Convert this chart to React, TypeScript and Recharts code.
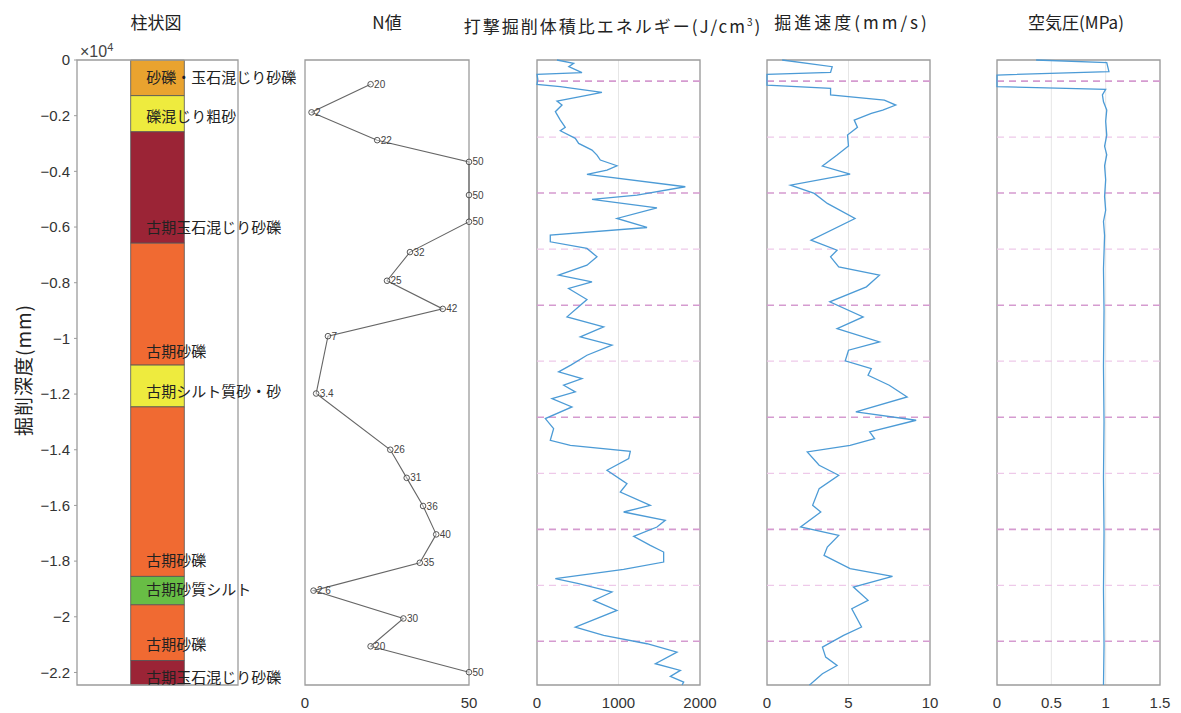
import React from 'react';
import {
  ComposedChart,
  Scatter,
  XAxis,
  YAxis,
  ReferenceArea,
  ReferenceLine,
  CartesianGrid,
  LabelList,
} from 'recharts';

// depth axis (mm, shown as ×10^4)
const DEPTH_MIN = -22450;
const depthTicks = [0, -2000, -4000, -6000, -8000, -10000, -12000, -14000, -16000, -18000, -20000, -22000];

// 柱状図: [top, bottom, color, label, label depth]
const strata: [number, number, string, string, number][] = [
  [0, 1280, '#e9a32f', '砂礫・玉石混じり砂礫', 610],
  [1280, 2580, '#eeeb3e', '礫混じり粗砂', 1980],
  [2580, 6580, '#9b2436', '古期玉石混じり砂礫', 5970],
  [6580, 10960, '#f06a32', '古期砂礫', 10420],
  [10960, 12460, '#eeeb3e', '古期シルト質砂・砂', 11860],
  [12460, 18550, '#f06a32', '古期砂礫', 17940],
  [18550, 19570, '#68bd45', '古期砂質シルト', 18980],
  [19570, 21570, '#f06a32', '古期砂礫', 20960],
  [21570, 22450, '#9b2436', '古期玉石混じり砂礫', 22140],
];

// N値: [depth, N, label]
const nValues: [number, number, string][] = [
  [870, 20, '20'], [1880, 2, '2'], [2880, 22, '22'], [3660, 50, '50'], [4850, 50, '50'],
  [5810, 50, '50'], [6900, 32, '32'], [7930, 25, '25'], [8940, 42, '42'], [9920, 7, '7'],
  [11980, 3.4, '3.4'], [14000, 26, '26'], [15010, 31, '31'], [16020, 36, '36'], [17040, 40, '40'],
  [18060, 35, '35'], [19060, 2.6, '2.6'], [20060, 30, '30'], [21060, 20, '20'], [21990, 50, '50'],
];

// 打撃掘削体積比エネルギー: [depth, J/cm3]
const energy: [number, number][] = [
  [0, 245], [120, 450], [240, 390], [456, 552], [516, 0], [700, 10], [880, 0], [958, 286],
  [1162, 797], [1318, 531], [1474, 245], [1617, 307], [1857, 225], [2157, 286], [2420, 347],
  [2540, 286], [2815, 470], [2995, 511], [3235, 675], [3415, 736], [3594, 777], [3798, 981],
  [3954, 859], [4110, 613], [4553, 1820], [4853, 1227], [5008, 675], [5308, 1472], [5692, 981],
  [6016, 1350], [6290, 163], [6530, 163], [6770, 613], [7069, 736], [7369, 613], [7728, 265],
  [7968, 675], [8207, 388], [8603, 613], [8866, 511], [9226, 368], [9586, 818], [9946, 531],
  [10245, 920], [10604, 613], [10950, 420], [11204, 265], [11443, 552], [11682, 327], [11922, 470],
  [12162, 184], [12462, 429], [12880, 102], [13239, 204], [13659, 163], [13839, 409], [14055, 1145],
  [14318, 1125], [14738, 859], [15216, 1104], [15518, 1022], [15996, 1390], [16236, 1063],
  [16535, 1574], [16775, 1472], [17110, 1186], [17434, 1390], [17674, 1554], [18034, 1554],
  [18296, 1063], [18630, 225], [18810, 511], [18990, 756], [19110, 920], [19410, 695], [19770, 981],
  [20369, 470], [20669, 818], [20968, 1350], [21268, 1718], [21686, 1452], [21926, 1759],
  [22142, 1636], [22346, 1800], [22450, 1780],
];

// 掘進速度: [depth, mm/s]
const speed: [number, number][] = [
  [0, 0.93], [240, 4.0], [444, 3.9], [516, 0], [899, 0], [1018, 3.9], [1258, 3.9], [1438, 7.2],
  [1618, 7.9], [1797, 7.1], [1917, 6.4], [2157, 5.35], [2420, 5.55], [2696, 4.94], [3091, 5.0],
  [3415, 4.3], [3810, 3.4], [4098, 5.1], [4493, 1.44], [4793, 2.9], [5152, 3.7], [5692, 5.4],
  [6470, 2.7], [6830, 4.3], [7069, 3.9], [7429, 4.4], [7728, 6.9], [8148, 6.1], [8688, 3.85],
  [9227, 5.9], [9646, 4.3], [10125, 6.9], [10424, 5.0], [10809, 4.8], [11083, 6.4], [11323, 6.2],
  [11682, 7.5], [12102, 8.6], [12641, 5.45], [12940, 9.15], [13361, 6.3], [13600, 6.6], [13839, 5.1],
  [14079, 2.47], [14558, 3.2], [14917, 4.4], [15395, 3.2], [15996, 2.8], [16236, 3.3], [16775, 2.06],
  [17074, 4.4], [17494, 3.7], [17793, 3.5], [18271, 5.1], [18547, 7.7], [18930, 5.3], [19410, 6.2],
  [19709, 5.2], [20369, 5.8], [20669, 4.7], [21088, 3.4], [21448, 3.6], [21748, 4.3], [22047, 3.4],
  [22406, 2.7], [22450, 2.6],
];

// 空気圧: [depth, MPa]
const airPressure: [number, number][] = [
  [0, 0.36], [96, 1.01], [420, 1.03], [540, 0], [958, 0], [1055, 1.0], [1250, 0.97], [1500, 0.98],
  [1800, 1.01], [2200, 1.0], [2700, 1.01], [3100, 0.99], [3400, 1.01], [3800, 0.99], [4300, 1.0],
  [4900, 0.99], [5400, 1.0], [5800, 0.98], [6300, 0.99], [7500, 0.98], [9000, 0.985], [11000, 0.98],
  [13000, 0.985], [15000, 0.98], [17000, 0.985], [19000, 0.98], [21000, 0.985], [22450, 0.98],
];

// pink dashed marks: [depth, strong?]
const marks: [number, boolean][] = [
  [760, true], [2770, false], [4780, true], [6790, false], [8810, true], [10820, false],
  [12830, true], [14850, false], [16860, true], [18870, false], [20880, true],
];

const JP = '"Noto Sans CJK JP", "Noto Sans", sans-serif';
const NUM = '"Liberation Sans", Arial, sans-serif';
const FRAME = '#9c9c9c';
const BLUE = '#4c9bd6';
const H = 713;

const toPts = (rows: [number, number][]) => rows.map(([d, v]) => ({ d: -d, v }));

const tickStyle = { fontSize: 15, fill: '#333', fontFamily: NUM };

function Title({ x, text, spacing = 0 }: { x: number; text: React.ReactNode; spacing?: number }) {
  return (
    <div
      style={{
        position: 'absolute', left: x, top: 10, transform: 'translateX(-50%)',
        fontFamily: JP, fontSize: 17, color: '#222', whiteSpace: 'nowrap', lineHeight: '24px',
        letterSpacing: spacing,
      }}
    >
      {text}
    </div>
  );
}

function DepthY() {
  return <YAxis type="number" dataKey="d" domain={[DEPTH_MIN, 0]} hide />;
}

function CurvePanel({
  left, rows, domain, ticks,
}: {
  left: number; rows: [number, number][]; domain: [number, number]; ticks: number[];
}) {
  return (
    <div style={{ position: 'absolute', left, top: 0 }}>
      <ComposedChart width={200} height={H} margin={{ top: 60, right: 20, bottom: 0, left: 17 }}>
        <CartesianGrid horizontal={false} stroke="#e6e6e6" />
        <XAxis
          type="number" dataKey="v" domain={domain} ticks={ticks} interval={0}
          axisLine={false} tickLine={false} height={28} tickMargin={6} tick={tickStyle}
        />
        <DepthY />
        {marks.map(([d, strong]) => (
          <ReferenceLine
            key={d} y={-d}
            stroke={strong ? '#d59bd0' : '#eec9e9'}
            strokeWidth={strong ? 1.6 : 1.3}
            strokeDasharray="7 5"
          />
        ))}
        <Scatter
          data={toPts(rows)} isAnimationActive={false}
          line={{ stroke: BLUE, strokeWidth: 1.3 }} shape={() => <g />}
        />
        <ReferenceArea x1={domain[0]} x2={domain[1]} y1={DEPTH_MIN} y2={0} fill="none" stroke={FRAME} strokeWidth={1.3} />
      </ComposedChart>
    </div>
  );
}

export default function App() {
  const strataLabels = strata.map(([, , , name, ld]) => ({ v: 1.29, d: -ld, name }));
  const nPts = nValues.map(([d, v, label]) => ({ d: -d, v, label }));

  return (
    <div style={{ position: 'absolute', left: 0, top: 0, width: 1181, height: H, background: '#fff' }}>
      <Title x={156} text="柱状図" />
      <Title x={387} text="N値" />
      <Title x={613} spacing={2} text={<span>打撃掘削体積比エネルギー(J/cm<sup style={{ fontSize: 10 }}>3</sup>)</span>} />
      <Title x={852} spacing={3} text="掘進速度(mm/s)" />
      <Title x={1076} text="空気圧(MPa)" />
      <div style={{ position: 'absolute', left: 80, top: 37, fontFamily: NUM, fontSize: 16, color: '#444', lineHeight: '20px' }}>
        ×10<sup style={{ fontSize: 11 }}>4</sup>
      </div>

      {/* 柱状図 */}
      <div style={{ position: 'absolute', left: 0, top: 0 }}>
        <ComposedChart width={300} height={H} margin={{ top: 60, right: 62, bottom: 28, left: 0 }}>
          <XAxis type="number" dataKey="v" domain={[0, 3]} hide />
          <YAxis
            type="number" dataKey="d" domain={[DEPTH_MIN, 0]} ticks={depthTicks} interval={0}
            width={77} axisLine={false} tickSize={3} tickMargin={4} tickLine={{ stroke: FRAME }}
            tick={tickStyle}
            tickFormatter={(v: number) => (v === 0 ? '0' : '−' + String(Math.abs(v) / 10000))}
            label={{
              content: (p: any) => {
                const vb = p.viewBox || { x: 0, y: 0, height: 0 };
                const cx = vb.x + 22;
                const cy = 370;
                return (
                  <text x={cx} y={cy} transform={`rotate(-90 ${cx} ${cy})`} textAnchor="middle"
                    dominantBaseline="central" fontFamily={JP} fontSize={19} letterSpacing={1} fill="#222">
                    掘削深度(mm)
                  </text>
                );
              },
            }}
          />
          <YAxis
            yAxisId="r" orientation="right" type="number" domain={[DEPTH_MIN, 0]} ticks={depthTicks}
            width={0} mirror axisLine={false} tick={false} tickSize={3} tickLine={{ stroke: FRAME }}
          />
          {strata.map(([top, bottom, color], i) => (
            <ReferenceArea key={i} x1={1} x2={2} y1={-bottom} y2={-top} fill={color} fillOpacity={1} stroke="#555" strokeWidth={0.8} />
          ))}
          <ReferenceArea x1={0} x2={3} y1={DEPTH_MIN} y2={0} fill="none" stroke={FRAME} strokeWidth={1.3} />
          <Scatter
            data={strataLabels} isAnimationActive={false}
            shape={(p: any) => (
              <text x={p.cx} y={p.cy} dominantBaseline="central" fontFamily={JP} fontSize={15} fill="#222">
                {p.payload.name}
              </text>
            )}
          />
        </ComposedChart>
      </div>

      {/* N値 */}
      <div style={{ position: 'absolute', left: 290, top: 0 }}>
        <ComposedChart width={230} height={H} margin={{ top: 60, right: 51, bottom: 0, left: 15 }}>
          <XAxis
            type="number" dataKey="v" domain={[0, 50]} ticks={[0, 50]} interval={0}
            axisLine={false} tickLine={false} height={28} tickMargin={6} tick={tickStyle}
          />
          <DepthY />
          <ReferenceArea x1={0} x2={50} y1={DEPTH_MIN} y2={0} fill="none" stroke={FRAME} strokeWidth={1.3} />
          <Scatter
            data={nPts} isAnimationActive={false}
            line={{ stroke: '#666', strokeWidth: 1.1 }}
            shape={(p: any) => <circle cx={p.cx} cy={p.cy} r={2.8} fill="#fff" fillOpacity={0.4} stroke="#444" strokeWidth={0.9} />}
          >
            <LabelList dataKey="label" position="right" offset={-1} fontSize={10} fill="#444" fontFamily={NUM} />
          </Scatter>
        </ComposedChart>
      </div>

      <CurvePanel left={520} rows={energy} domain={[0, 2000]} ticks={[0, 1000, 2000]} />
      <CurvePanel left={750} rows={speed} domain={[0, 10]} ticks={[0, 5, 10]} />
      <CurvePanel left={980} rows={airPressure} domain={[0, 1.5]} ticks={[0, 0.5, 1, 1.5]} />
    </div>
  );
}
